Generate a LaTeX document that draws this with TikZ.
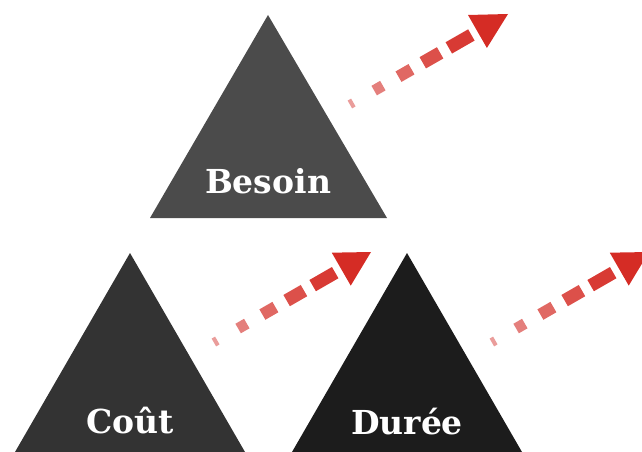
\documentclass[tikz,border=0pt]{standalone}
\usepackage{fontspec}
\setmainfont{DejaVu Serif}
\usetikzlibrary{calc}
\definecolor{topgray}{HTML}{4B4B4B}
\definecolor{leftgray}{HTML}{333333}
\definecolor{rightgray}{HTML}{1C1C1C}
\definecolor{arrowred}{HTML}{D52C25}
\definecolor{arrowpink}{HTML}{EBA3A1}

\begin{document}
\begin{tikzpicture}[x=1pt,y=-1pt,
  title/.style={text=white,font=\fontsize{33}{33}\selectfont\bfseries,anchor=base,inner sep=0pt},
  bit/.style={line cap=butt}]
  \clip (0,0) rectangle (642,452);
  % triangles
  \fill[topgray] (268,15) -- (387,218) -- (150,218) -- cycle;
  \fill[leftgray] (130,253) -- (245,452) -- (15,452) -- cycle;
  \fill[rightgray] (407,253) -- (522,452) -- (292,452) -- cycle;
  \node[title] (besoin) at (268,193) {Besoin};
  \node[title] (cout) at (130,433) {Coût};
  \node[title] (duree) at (407,434) {Durée};
  % dashed arrows
  \coordinate (b1) at (349,105); \coordinate (b2) at (508,14);
  \coordinate (c1) at (213,343); \coordinate (c2) at (371,252);
  \coordinate (d1) at (491,343); \coordinate (d2) at (649,252);
  \foreach \a in {b,c,d}{
    \foreach \s/\e/\w/\p in {1/5/9/5,29/39/11/30,57/72/12/50,85/105/13/70,115/141/13/88}
      \draw[bit,line width=\w pt,arrowred!\p!arrowpink] ($(\a1)!\s pt!(\a2)$) -- ($(\a1)!\e pt!(\a2)$);
    \coordinate (\a h) at ($(\a1)!148pt!(\a2)$);
    \fill[arrowred] (\a2) -- ($(\a h)!19pt!90:(\a2)$) -- ($(\a h)!19pt!-90:(\a2)$) -- cycle;
  }
\end{tikzpicture}
\end{document}
